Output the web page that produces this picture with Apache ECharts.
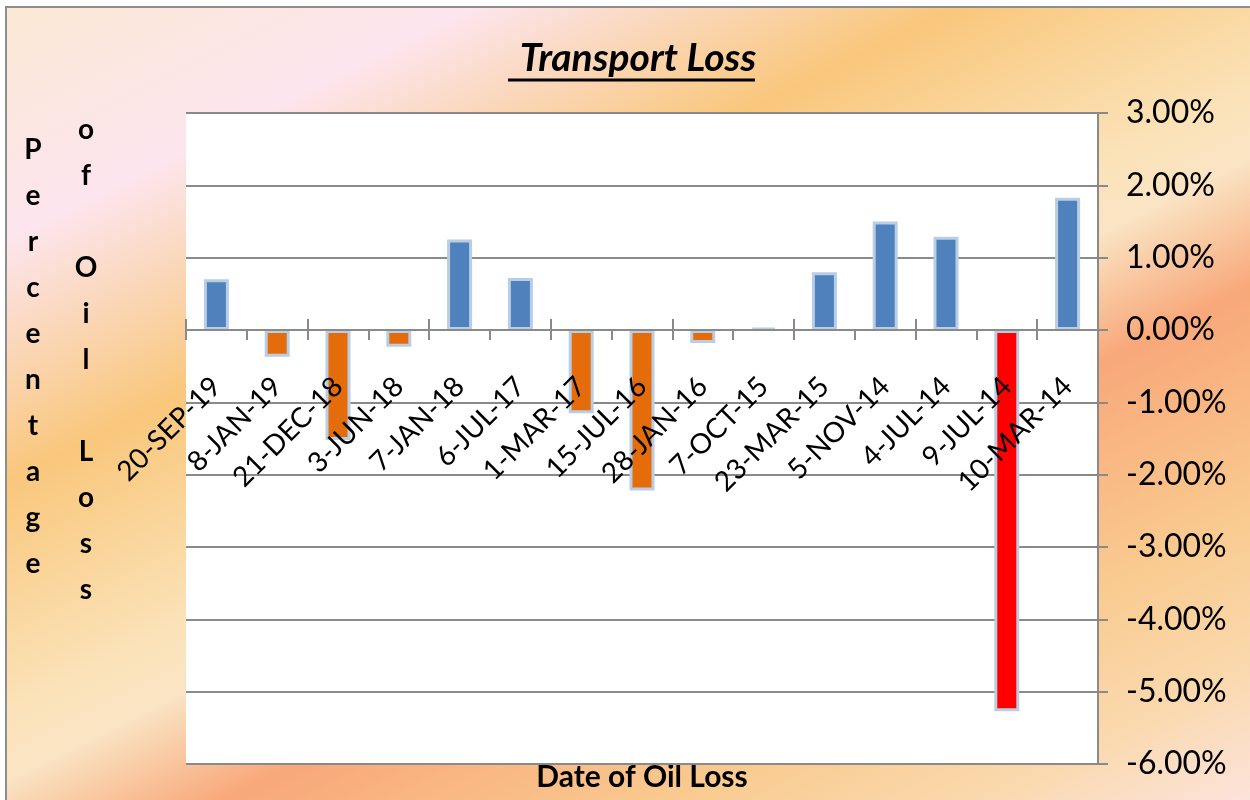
<!DOCTYPE html>
<html lang="en">
<head>
    <meta charset="UTF-8">
    <title>Transport Loss</title>
    <script type="text/javascript" src="https://cdn.jsdelivr.net/npm/echarts@6/dist/echarts.min.js"></script>
    <style>
        html, body { margin: 0; padding: 0; background: #fff; }
        #container { width: 1250px; height: 800px; }
    </style>
</head>
<body>
<div id="container"></div>
<script type="text/javascript">
    // dates (x axis) and loss values in percent
    var categories = ['20-SEP-19', '8-JAN-19', '21-DEC-18', '3-JUN-18', '7-JAN-18', '6-JUL-17', '1-MAR-17',
        '15-JUL-16', '28-JAN-16', '7-OCT-15', '23-MAR-15', '5-NOV-14', '4-JUL-14', '9-JUL-14', '10-MAR-14'];
    var lossPct = [0.70, -0.37, -1.52, -0.23, 1.25, 0.72, -1.15, -2.22, -0.18, 0.03, 0.80, 1.50, 1.29, -5.27, 1.83];
    var highlightDate = '9-JUL-14';
    var yMin = -6, yMax = 3, yStep = 1;

    var font = 'Lato, "Open Sans", sans-serif';
    var axisGray = '#8a8a8a';

    // plot box (pixels) and where value 0 falls in it
    var plotLeft = 186, plotRight = 152, plotTop = 113, plotBottom = 36;
    var zeroY = plotTop + (800 - plotTop - plotBottom) * yMax / (yMax - yMin);

    var dom = document.getElementById('container');
    var myChart = echarts.init(dom, null, {renderer: 'canvas'});

    var option = {
        backgroundColor: '#ffffff',
        animation: false,
        title: {
            text: 'Transport Loss',
            left: 633,
            top: 34,
            textAlign: 'center',
            textStyle: {
                fontFamily: font,
                fontSize: 39,
                fontWeight: 'bold',
                fontStyle: 'italic',
                color: '#000'
            }
        },
        graphic: [
            {
                type: 'rect',
                z: -10,
                shape: {x: 6, y: 7, width: 1250, height: 800},
                style: {
                    fill: {
                        type: 'linear', x: 0, y: 0, x2: 570, y2: 1140, global: true,
                        colorStops: [
                            {offset: 0, color: '#FBE9D3'},
                            {offset: 0.17, color: '#FCE5EE'},
                            {offset: 0.34, color: '#F9C77C'},
                            {offset: 0.50, color: '#FBE2B8'},
                            {offset: 0.55, color: '#FAE4C4'},
                            {offset: 0.64, color: '#F8A87A'},
                            {offset: 0.72, color: '#F9B985'},
                            {offset: 0.80, color: '#F9CB90'},
                            {offset: 0.90, color: '#FAD8AC'},
                            {offset: 1, color: '#FCE3DA'}
                        ]
                    },
                    stroke: '#8e8e8e',
                    lineWidth: 2
                }
            },
            {
                type: 'line',
                shape: {x1: 508, y1: 80, x2: 755, y2: 80},
                style: {stroke: '#000', lineWidth: 3}
            },
            {
                type: 'text',
                x: 642, y: 762,
                style: {
                    text: 'Date of Oil Loss',
                    font: 'bold 30px ' + font,
                    fill: '#000',
                    align: 'center',
                    verticalAlign: 'top'
                }
            },
            {
                type: 'text',
                x: 33, y: 127,
                style: {
                    text: 'Percentage'.split('').join('\n'),
                    font: 'bold 28px ' + font,
                    lineHeight: 46,
                    fill: '#000',
                    align: 'center',
                    verticalAlign: 'top'
                }
            },
            {
                type: 'text',
                x: 86, y: 107,
                style: {
                    text: 'of Oil Loss'.split('').join('\n'),
                    font: 'bold 28px ' + font,
                    lineHeight: 46,
                    fill: '#000',
                    align: 'center',
                    verticalAlign: 'top'
                }
            }
        ],
        grid: [
            // main plot
            {
                left: plotLeft, right: plotRight, top: plotTop, bottom: plotBottom,
                containLabel: false, outerBoundsMode: 'none',
                show: true, backgroundColor: '#ffffff', borderWidth: 0
            },
            // upper half, its bottom edge is the zero line: carries the date labels
            {
                left: plotLeft, right: plotRight, top: plotTop, height: zeroY - plotTop,
                containLabel: false, outerBoundsMode: 'none'
            },
            // lower half, its top edge is the zero line: ticks pointing up
            {
                left: plotLeft, right: plotRight, top: zeroY, bottom: plotBottom,
                containLabel: false, outerBoundsMode: 'none'
            }
        ],
        xAxis: [
            {
                gridIndex: 0,
                type: 'category',
                data: categories,
                show: false
            },
            {
                gridIndex: 1,
                type: 'category',
                data: categories,
                position: 'bottom',
                z: 10,
                axisLine: {onZero: false, lineStyle: {color: axisGray, width: 2}},
                axisTick: {show: true, length: 10, lineStyle: {color: axisGray, width: 2}},
                axisLabel: {
                    interval: 0,
                    rotate: 45,
                    margin: 52,
                    fontFamily: font,
                    fontSize: 28,
                    color: '#000'
                },
                splitLine: {show: false}
            },
            {
                gridIndex: 2,
                type: 'category',
                data: categories,
                position: 'top',
                z: 10,
                axisLine: {show: false, onZero: false},
                axisTick: {show: true, length: 11, lineStyle: {color: axisGray, width: 2}},
                axisLabel: {show: false},
                splitLine: {show: false}
            }
        ],
        yAxis: [
            {
                gridIndex: 0,
                type: 'value',
                position: 'right',
                min: yMin,
                max: yMax,
                interval: yStep,
                axisLine: {show: true, lineStyle: {color: axisGray, width: 2}},
                axisTick: {show: true, length: 10, lineStyle: {color: axisGray, width: 2}},
                axisLabel: {
                    margin: 28,
                    fontFamily: font,
                    fontSize: 32,
                    color: '#000',
                    formatter: function (v) { return v.toFixed(2) + '%'; }
                },
                splitLine: {show: true, lineStyle: {color: axisGray, width: 2}}
            },
            {gridIndex: 1, type: 'value', show: false},
            {gridIndex: 2, type: 'value', show: false}
        ],
        series: [
            {
                type: 'bar',
                xAxisIndex: 0,
                yAxisIndex: 0,
                data: lossPct,
                barWidth: 25,
                itemStyle: {
                    borderColor: '#B9CDE5',
                    borderWidth: 3,
                    color: function (p) {
                        if (categories[p.dataIndex] === highlightDate) return '#FF0000';
                        return p.value >= 0 ? '#4F81BD' : '#E46C0A';
                    }
                }
            }
        ]
    };

    myChart.setOption(option);
    window.addEventListener('resize', myChart.resize);
</script>
</body>
</html>
